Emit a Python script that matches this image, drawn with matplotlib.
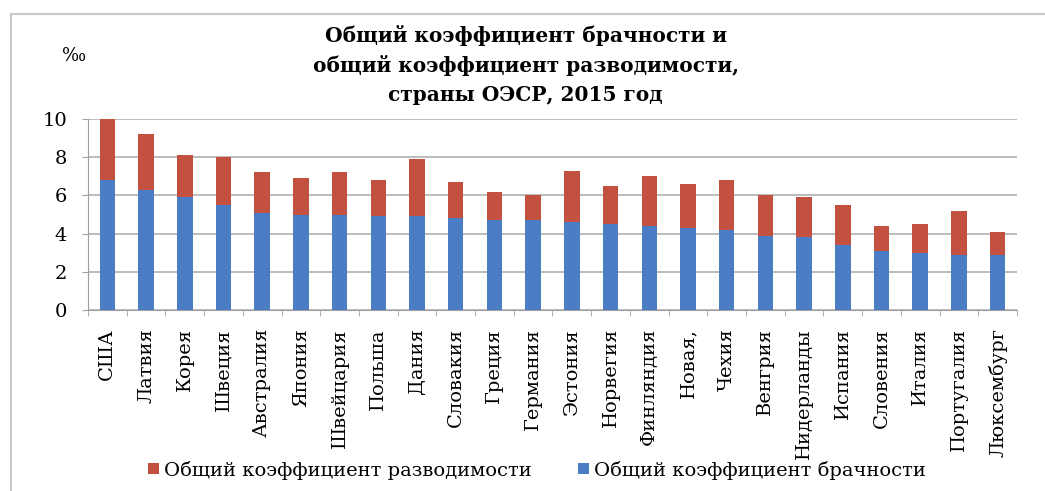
import matplotlib
matplotlib.use("Agg")
import matplotlib.pyplot as plt
import numpy as np
from matplotlib.patches import Rectangle

countries = ["США", "Латвия", "Корея", "Швеция", "Австралия", "Япония", "Швейцария",
             "Польша", "Дания", "Словакия", "Греция", "Германия", "Эстония", "Норвегия",
             "Финляндия", "Новая,", "Чехия", "Венгрия", "Нидерланды", "Испания",
             "Словения", "Италия", "Португалия", "Люксембург"]
marriage = [6.8, 6.3, 5.9, 5.5, 5.1, 5.0, 5.0, 4.9, 4.9, 4.8, 4.7, 4.7, 4.6, 4.5,
            4.4, 4.3, 4.2, 3.9, 3.8, 3.4, 3.1, 3.0, 2.9, 2.9]
total = [10.0, 9.2, 8.1, 8.0, 7.2, 6.9, 7.2, 6.8, 7.9, 6.7, 6.2, 6.0, 7.3, 6.5,
         7.0, 6.6, 6.8, 6.0, 5.9, 5.5, 4.4, 4.5, 5.2, 4.1]
divorce = [t - m for t, m in zip(total, marriage)]
yticks = [0, 2, 4, 6, 8, 10]
title = "Общий коэффициент брачности и\nобщий коэффициент разводимости,\nстраны ОЭСР, 2015 год"
label_div = "Общий коэффициент разводимости"
label_mar = "Общий коэффициент брачности"

plt.rcParams['font.family'] = ['DejaVu Serif', 'Liberation Serif']

BLUE = "#4a7dc4"
RED = "#c4503f"

fig = plt.figure(figsize=(10.45, 4.91), dpi=100)
ax = fig.add_axes([88/1045, 1-310/491, (1017-88)/1045, (310-119)/491])

x = np.arange(len(countries))
ax.bar(x, marriage, width=0.4, color=BLUE, zorder=3, label=label_mar)
ax.bar(x, divorce, bottom=marriage, width=0.4, color=RED, zorder=3, label=label_div)

ax.set_xlim(-0.5, len(countries) - 0.5)
ax.set_ylim(0, 10)
ax.set_yticks(yticks)
ax.set_yticklabels([str(v) for v in yticks], fontsize=14)
ax.yaxis.grid(True, color="#b0b0b0", linewidth=1.2, zorder=0)
ax.set_axisbelow(True)
for s in ["top", "right"]:
    ax.spines[s].set_visible(False)
for s in ["left", "bottom"]:
    ax.spines[s].set_color("#a0a0a0")
ax.tick_params(axis="y", length=4, color="#a0a0a0", pad=11)
ax.set_xticks(x)
ax.set_xticklabels(countries, rotation=90, fontsize=14, va="top")
ax.tick_params(axis="x", length=0, pad=13)
ax.set_xticks(np.arange(-0.5, len(countries), 1), minor=True)
ax.tick_params(axis="x", which="minor", length=4, color="#a0a0a0")

fig.text(0.503, 1-25/491, title, ha="center", va="top", fontsize=14.5,
         fontweight="bold", linespacing=1.55)
fig.text(74/1045, 1-56/491, "‰", ha="center", va="center", fontsize=13)

# legend
h, l = ax.get_legend_handles_labels()
leg = fig.legend([h[1], h[0]], [l[1], l[0]], loc="center", bbox_to_anchor=(537/1045, 1-470/491),
                 ncol=2, frameon=False, fontsize=14, handlelength=0.55, handleheight=0.55,
                 handletextpad=0.25, columnspacing=2.4)

# outer border (top and left)
fig.add_artist(Rectangle((11/1045, -0.1), 1.2, 1.1 - 14/491, transform=fig.transFigure,
                         fill=False, edgecolor="#c8c8c8", linewidth=1.5))

fig.savefig("out.png", dpi=100)
